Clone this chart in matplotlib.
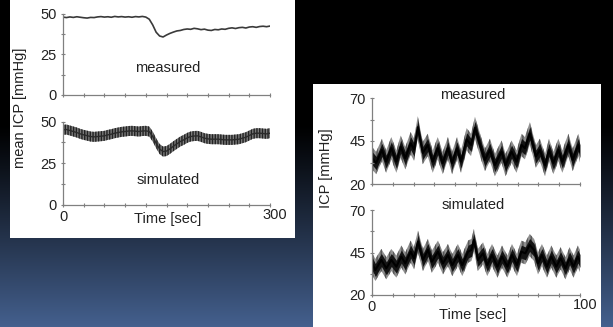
import numpy as np
import matplotlib.pyplot as plt
from matplotlib.patches import Rectangle
import matplotlib.transforms as mtransforms

plt.rcParams['font.family'] = ['Liberation Sans', 'DejaVu Sans']

# ---------------- data ----------------
# left: mean ICP over 300 s
mean_time = [0, 5, 10, 15, 20, 25, 30, 35, 40, 45, 50, 55, 60, 65, 70, 75, 80, 85, 90, 95,
             100, 105, 110, 115, 120, 125, 130, 135, 140, 145, 150, 155, 160, 165, 170, 175,
             180, 185, 190, 195, 200, 205, 210, 215, 220, 225, 230, 235, 240, 245, 250, 255,
             260, 265, 270, 275, 280, 285, 290, 295, 300]
mean_measured = [47.8, 47.5, 47.9, 47.6, 48.0, 47.7, 47.4, 47.2, 47.6, 47.5, 47.9, 48.1, 47.8,
                 48.0, 47.7, 48.2, 47.9, 48.1, 47.8, 48.0, 47.7, 48.1, 47.9, 48.2, 47.8, 46.5,
                 43.0, 38.5, 36.2, 35.6, 36.8, 37.8, 38.6, 39.3, 39.6, 40.2, 40.5, 40.3, 40.9,
                 40.6, 40.1, 40.4, 39.8, 39.6, 40.2, 40.0, 40.5, 40.3, 40.9, 41.2, 40.8, 41.3,
                 41.5, 41.1, 41.7, 41.9, 41.5, 42.0, 42.2, 41.9, 42.3]
mean_simulated = [45.0, 45.2, 44.6, 44.0, 43.4, 42.6, 42.0, 41.5, 41.0, 40.8, 41.0, 41.2, 41.4,
                  42.0, 42.4, 43.0, 43.4, 43.8, 44.0, 44.3, 44.4, 44.2, 44.0, 44.3, 44.4, 44.0,
                  41.0, 37.0, 33.5, 32.0, 32.3, 33.6, 35.2, 36.6, 38.0, 39.0, 40.2, 41.0, 41.3,
                  41.4, 40.8, 40.0, 39.6, 39.4, 39.4, 39.4, 39.2, 39.0, 39.0, 39.0, 39.2, 39.4,
                  40.0, 40.6, 41.6, 42.6, 43.0, 43.0, 42.8, 42.6, 43.0]
sim_band = 3.0   # half-width of the simulated oscillation band (mmHg)

# right: ICP over 100 s (turning points of respiratory waves)
icp_meas_time = [0, 2.0, 4.8, 6.8, 9.3, 11.7, 13.8, 16.0, 18.6, 20.2, 22.0, 24.4, 26.8, 29.2,
                 31.6, 34.0, 36.5, 38.5, 40.9, 42.8, 45.5, 47.6, 49.5, 52.7, 54.3, 56.7, 59.1,
                 62.3, 64.2, 67.1, 69.5, 71.9, 73.5, 75.9, 78.8, 80.7, 83.2, 85.1, 87.2, 89.6,
                 91.5, 94.4, 96.5, 99.2, 100]
icp_measured = [35.1, 32.2, 39.8, 33.0, 40.8, 33.0, 41.7, 35.0, 43.7, 40.0, 53.0, 38.0, 42.7,
                33.0, 40.8, 32.2, 40.8, 32.2, 40.8, 33.0, 46.0, 42.7, 52.6, 39.8, 34.0, 39.8,
                31.0, 38.8, 31.0, 38.8, 33.0, 42.7, 40.8, 49.5, 36.0, 39.8, 31.0, 39.8, 32.2,
                39.8, 33.0, 42.7, 34.0, 42.7, 39.0]
icp_sim_time = [0, 1.6, 4.5, 6.9, 9.3, 11.7, 14.1, 16.0, 18.6, 20.2, 22.1, 24.5, 26.9, 28.8,
                31.7, 34.1, 36.5, 38.6, 41.3, 43.4, 46.2, 47.8, 49.0, 50.9, 53.4, 55.4, 57.7,
                60.3, 62.5, 65.1, 67.3, 69.7, 71.8, 73.7, 75.8, 77.9, 79.8, 81.7, 84.1, 86.2,
                88.6, 90.7, 93.0, 95.0, 96.9, 99.0, 100]
icp_simulated = [38.6, 34.7, 40.6, 35.7, 40.6, 36.7, 42.6, 38.6, 45.5, 41.6, 51.4, 40.6, 46.5,
                 39.6, 45.5, 38.6, 43.5, 37.6, 43.5, 37.6, 45.5, 46.5, 52.4, 40.6, 44.5, 37.6,
                 43.5, 36.7, 42.6, 36.7, 43.5, 37.6, 45.5, 44.5, 49.4, 46.5, 38.6, 43.5, 36.7,
                 42.6, 36.7, 41.6, 35.7, 41.6, 36.7, 42.6, 40.0]
pulse_outer = 6.5   # cardiac pulse band half-width
pulse_inner = 3.8

# ---------------- figure ----------------
W, H = 613, 327
fig = plt.figure(figsize=(W / 100, H / 100), dpi=100)

# background gradient
bg = fig.add_axes([0, 0, 1, 1], zorder=-10)
rows = np.linspace(0, 1, 327)
top = np.array([0, 0, 0])
bot = np.array([0x44, 0x60, 0x8e]) / 255
frac = np.clip((rows - 0.38) / 0.62, 0, 1) ** 1.1
img = np.zeros((327, 2, 3))
for i, f in enumerate(frac):
    img[i, :, :] = top * (1 - f) + bot * f
bg.imshow(img, aspect='auto', extent=[0, 1, 0, 1], origin='upper')
bg.set_axis_off()

def px_rect(x0, y0, x1, y1):
    return Rectangle((x0 / W, 1 - y1 / H), (x1 - x0) / W, (y1 - y0) / H,
                     transform=fig.transFigure, facecolor='white', edgecolor='none', zorder=-5)

fig.patches.append(px_rect(10, 0, 295, 238))
fig.patches.append(px_rect(313, 84, 601, 327))

def ax_px(x0, y0, x1, y1):
    return fig.add_axes([x0 / W, 1 - y1 / H, (x1 - x0) / W, (y1 - y0) / H])

TXT = '#222222'
SP = '#808080'

def style(ax, xmaj, xmin, ymaj, ymin, xlabels):
    for s in ['top', 'right']:
        ax.spines[s].set_visible(False)
    for s in ['left', 'bottom']:
        ax.spines[s].set_color(SP)
        ax.spines[s].set_linewidth(0.9)
    ax.set_facecolor('none')
    ax.set_xticks(xmaj)
    ax.set_xticks(xmin, minor=True)
    ax.set_yticks(ymaj)
    ax.set_yticks(ymin, minor=True)
    ax.tick_params(which='both', direction='inout', length=3, width=0.8, color=SP,
                   labelsize=10.5, labelcolor=TXT, pad=3)
    if not xlabels:
        ax.set_xticklabels([])
    else:
        ax.tick_params(axis='x', pad=2)
        lbls = ax.get_xticklabels()
        off = mtransforms.ScaledTranslation(5 / 100, 2 / 100, fig.dpi_scale_trans)
        lbls[-1].set_transform(lbls[-1].get_transform() + off)

# left panels
x_maj_l = [0, 300]
x_min_l = [30, 60, 90, 120, 150, 180, 210, 240, 270]
ax1 = ax_px(63, 13.5, 270, 95)
ax1.plot(mean_time, mean_measured, color='#3a3a3a', lw=1.2)
ax1.set_xlim(0, 300)
ax1.set_ylim(0, 50)
style(ax1, x_maj_l, x_min_l, [0, 25, 50], [12.5, 37.5], False)
ax1.text(0.507, 0.33, 'measured', transform=ax1.transAxes, ha='center', va='center',
         fontsize=10.5, color=TXT)

ax2 = ax_px(63, 121.5, 270, 205)
ms = np.array(mean_simulated)
ax2.fill_between(mean_time, ms - sim_band, ms + sim_band, facecolor='#7a7a7a',
                 hatch='||||||', edgecolor='#222222', linewidth=0)
ax2.plot(mean_time, mean_simulated, color='#2a2a2a', lw=1.0)
ax2.set_xlim(0, 300)
ax2.set_ylim(0, 50)
style(ax2, x_maj_l, x_min_l, [0, 25, 50], [12.5, 37.5], True)
ax2.text(0.507, 0.30, 'simulated', transform=ax2.transAxes, ha='center', va='center',
         fontsize=10.5, color=TXT)

fig.text(20 / W, 1 - 108 / H, 'mean ICP [mmHg]', rotation=90, ha='center', va='center',
         fontsize=10.5, color=TXT)
fig.text(168 / W, 1 - 219 / H, 'Time [sec]', ha='center', va='center', fontsize=10.5, color=TXT)

# right panels
x_maj_r = [0, 100]
x_min_r = [10, 20, 30, 40, 50, 60, 70, 80, 90]

def icp_band(ax, t, c):
    c = np.array(c)
    ax.fill_between(t, c - pulse_outer, c + pulse_outer, facecolor='#8f8f8f',
                    hatch='||||', edgecolor='#555555', linewidth=0)
    ax.fill_between(t, c - pulse_inner, c + pulse_inner, color='#141414', linewidth=0)
    ax.plot(t, c, color='black', lw=1.5)

ax3 = ax_px(372, 98, 580, 184)
icp_band(ax3, icp_meas_time, icp_measured)
ax3.set_xlim(0, 100)
ax3.set_ylim(20, 70)
style(ax3, x_maj_r, x_min_r, [20, 45, 70], [32.5, 57.5], False)
ax3.text(0.486, 1.035, 'measured', transform=ax3.transAxes, ha='center', va='center',
         fontsize=10.5, color=TXT)

ax4 = ax_px(372, 210, 580, 295)
icp_band(ax4, icp_sim_time, icp_simulated)
ax4.set_xlim(0, 100)
ax4.set_ylim(20, 70)
style(ax4, x_maj_r, x_min_r, [20, 45, 70], [32.5, 57.5], True)
ax4.text(0.486, 1.06, 'simulated', transform=ax4.transAxes, ha='center', va='center',
         fontsize=10.5, color=TXT)

fig.text(326 / W, 1 - 168 / H, 'ICP [mmHg]', rotation=90, ha='center', va='center',
         fontsize=10.5, color=TXT)
fig.text(473 / W, 1 - 315 / H, 'Time [sec]', ha='center', va='center', fontsize=10.5, color=TXT)

fig.savefig('out.png', dpi=100)
